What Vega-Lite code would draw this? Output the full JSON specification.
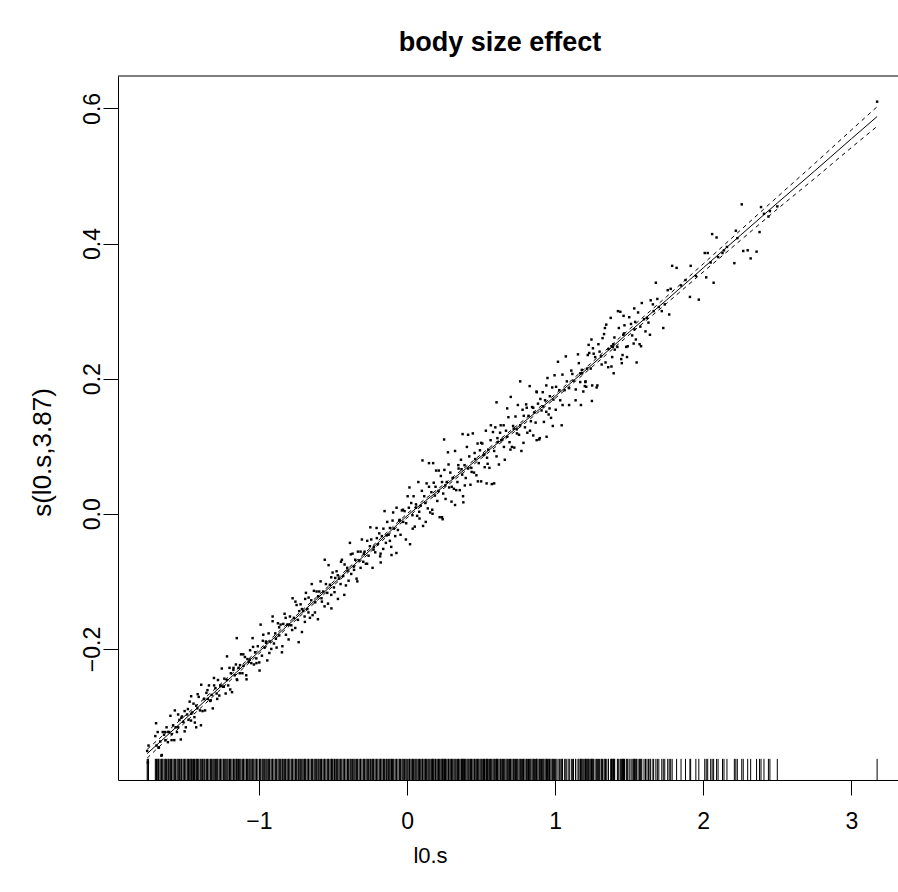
{
  "$schema": "https://vega.github.io/schema/vega-lite/v6.json",
  "width": 780,
  "height": 704,
  "autosize": {"type": "none"},
  "padding": {"left": 118, "top": 76, "right": 0, "bottom": 112},
  "background": "white",
  "config": {
    "view": {"stroke": null},
    "font": "Liberation Sans",
    "axis": {"labelFont": "Liberation Sans", "titleFont": "Liberation Sans", "labelColor": "black", "titleColor": "black", "domainColor": "black", "tickColor": "black", "grid": false}
  },
  "title": {"text": "body size effect", "fontSize": 27, "fontWeight": "bold", "font": "Liberation Sans", "color": "black", "anchor": "middle", "baseline": "alphabetic", "offset": -2, "dx": -8},
  "datasets": {
    "pts": [
      {"x":-1.755,"y":-0.351},{"x":-1.750,"y":-0.368},{"x":-1.746,"y":-0.343},{"x":-1.692,"y":-0.343},{"x":-1.684,"y":-0.323},{"x":-1.676,"y":-0.346},{"x":-1.667,"y":-0.337},{"x":-1.659,"y":-0.358},{"x":-1.650,"y":-0.323},{"x":-1.641,"y":-0.327},
      {"x":-1.632,"y":-0.335},{"x":-1.624,"y":-0.316},{"x":-1.615,"y":-0.338},{"x":-1.606,"y":-0.323},{"x":-1.598,"y":-0.299},{"x":-1.589,"y":-0.326},{"x":-1.580,"y":-0.313},{"x":-1.572,"y":-0.335},{"x":-1.563,"y":-0.316},{"x":-1.554,"y":-0.323},
      {"x":-1.546,"y":-0.297},{"x":-1.537,"y":-0.305},{"x":-1.528,"y":-0.334},{"x":-1.520,"y":-0.300},{"x":-1.511,"y":-0.308},{"x":-1.502,"y":-0.292},{"x":-1.494,"y":-0.316},{"x":-1.485,"y":-0.297},{"x":-1.476,"y":-0.305},{"x":-1.468,"y":-0.278},
      {"x":-1.459,"y":-0.306},{"x":-1.450,"y":-0.294},{"x":-1.442,"y":-0.281},{"x":-1.433,"y":-0.309},{"x":-1.424,"y":-0.284},{"x":-1.416,"y":-0.288},{"x":-1.407,"y":-0.271},{"x":-1.398,"y":-0.291},{"x":-1.390,"y":-0.253},{"x":-1.381,"y":-0.292},
      {"x":-1.372,"y":-0.274},{"x":-1.364,"y":-0.291},{"x":-1.355,"y":-0.265},{"x":-1.346,"y":-0.274},{"x":-1.338,"y":-0.254},{"x":-1.329,"y":-0.277},{"x":-1.320,"y":-0.268},{"x":-1.312,"y":-0.288},{"x":-1.303,"y":-0.254},{"x":-1.294,"y":-0.258},
      {"x":-1.286,"y":-0.266},{"x":-1.277,"y":-0.246},{"x":-1.268,"y":-0.269},{"x":-1.260,"y":-0.254},{"x":-1.251,"y":-0.229},{"x":-1.242,"y":-0.256},{"x":-1.234,"y":-0.244},{"x":-1.225,"y":-0.266},{"x":-1.216,"y":-0.246},{"x":-1.208,"y":-0.254},
      {"x":-1.199,"y":-0.228},{"x":-1.190,"y":-0.236},{"x":-1.182,"y":-0.264},{"x":-1.173,"y":-0.231},{"x":-1.164,"y":-0.239},{"x":-1.156,"y":-0.223},{"x":-1.147,"y":-0.246},{"x":-1.138,"y":-0.228},{"x":-1.130,"y":-0.236},{"x":-1.121,"y":-0.208},
      {"x":-1.112,"y":-0.236},{"x":-1.104,"y":-0.225},{"x":-1.095,"y":-0.212},{"x":-1.086,"y":-0.239},{"x":-1.078,"y":-0.215},{"x":-1.069,"y":-0.219},{"x":-1.060,"y":-0.202},{"x":-1.052,"y":-0.221},{"x":-1.043,"y":-0.184},{"x":-1.034,"y":-0.223},
      {"x":-1.026,"y":-0.205},{"x":-1.017,"y":-0.221},{"x":-1.008,"y":-0.196},
      {"x":-0.998,"y":-0.220},{"x":-0.989,"y":-0.164},{"x":-0.980,"y":-0.210},{"x":-0.971,"y":-0.179},{"x":-0.962,"y":-0.198},{"x":-0.953,"y":-0.189},{"x":-0.944,"y":-0.217},{"x":-0.935,"y":-0.177},{"x":-0.926,"y":-0.189},{"x":-0.917,"y":-0.200},
      {"x":-0.908,"y":-0.159},{"x":-0.899,"y":-0.192},{"x":-0.890,"y":-0.177},{"x":-0.881,"y":-0.198},{"x":-0.872,"y":-0.162},{"x":-0.863,"y":-0.180},{"x":-0.854,"y":-0.164},{"x":-0.845,"y":-0.205},{"x":-0.836,"y":-0.163},{"x":-0.827,"y":-0.148},
      {"x":-0.818,"y":-0.179},{"x":-0.809,"y":-0.164},{"x":-0.800,"y":-0.186},{"x":-0.791,"y":-0.152},{"x":-0.782,"y":-0.165},{"x":-0.773,"y":-0.125},{"x":-0.764,"y":-0.154},{"x":-0.755,"y":-0.169},{"x":-0.746,"y":-0.135},{"x":-0.737,"y":-0.157},
      {"x":-0.728,"y":-0.144},{"x":-0.719,"y":-0.134},{"x":-0.710,"y":-0.175},{"x":-0.701,"y":-0.144},{"x":-0.692,"y":-0.152},{"x":-0.683,"y":-0.117},{"x":-0.674,"y":-0.141},{"x":-0.665,"y":-0.124},{"x":-0.656,"y":-0.154},{"x":-0.647,"y":-0.128},
      {"x":-0.638,"y":-0.150},{"x":-0.629,"y":-0.114},{"x":-0.620,"y":-0.131},{"x":-0.611,"y":-0.115},{"x":-0.602,"y":-0.156},{"x":-0.593,"y":-0.115},{"x":-0.584,"y":-0.100},{"x":-0.575,"y":-0.130},{"x":-0.566,"y":-0.115},{"x":-0.557,"y":-0.137},
      {"x":-0.548,"y":-0.104},{"x":-0.539,"y":-0.117},{"x":-0.530,"y":-0.076},{"x":-0.521,"y":-0.105},{"x":-0.512,"y":-0.120},{"x":-0.503,"y":-0.087},{"x":-0.494,"y":-0.109},{"x":-0.485,"y":-0.095},{"x":-0.476,"y":-0.085},{"x":-0.467,"y":-0.126},
      {"x":-0.458,"y":-0.096},{"x":-0.449,"y":-0.104},{"x":-0.440,"y":-0.068},{"x":-0.431,"y":-0.092},{"x":-0.422,"y":-0.075},{"x":-0.413,"y":-0.106},{"x":-0.404,"y":-0.080},{"x":-0.395,"y":-0.099},{"x":-0.386,"y":-0.043},{"x":-0.377,"y":-0.089},
      {"x":-0.368,"y":-0.059},{"x":-0.359,"y":-0.078},{"x":-0.350,"y":-0.068},{"x":-0.341,"y":-0.096},{"x":-0.332,"y":-0.056},{"x":-0.323,"y":-0.069},{"x":-0.314,"y":-0.080},{"x":-0.305,"y":-0.038},{"x":-0.296,"y":-0.071},{"x":-0.287,"y":-0.056},
      {"x":-0.278,"y":-0.074},{"x":-0.269,"y":-0.040},{"x":-0.260,"y":-0.062},{"x":-0.251,"y":-0.048},{"x":-0.242,"y":-0.038},{"x":-0.233,"y":-0.080},{"x":-0.224,"y":-0.049},{"x":-0.215,"y":-0.057},{"x":-0.206,"y":-0.021},{"x":-0.197,"y":-0.045},
      {"x":-0.188,"y":-0.029},{"x":-0.179,"y":-0.059},{"x":-0.170,"y":-0.033},{"x":-0.161,"y":-0.052},{"x":-0.152,"y":0.004},{"x":-0.143,"y":-0.043},{"x":-0.134,"y":-0.012},{"x":-0.125,"y":-0.031},{"x":-0.116,"y":-0.021},{"x":-0.107,"y":-0.049},
      {"x":-0.098,"y":-0.010},{"x":-0.089,"y":-0.022},{"x":-0.080,"y":-0.033},{"x":-0.071,"y":0.009},{"x":-0.062,"y":-0.024},{"x":-0.053,"y":-0.010},{"x":-0.044,"y":-0.031},{"x":-0.035,"y":0.005},{"x":-0.026,"y":-0.012},{"x":-0.017,"y":0.004},
      {"x":-0.008,"y":-0.038},
      {"x":0.004,"y":0.026},{"x":0.012,"y":0.009},{"x":0.020,"y":-0.045},{"x":0.028,"y":0.016},{"x":0.036,"y":-0.002},{"x":0.044,"y":0.026},{"x":0.052,"y":-0.019},{"x":0.060,"y":0.014},{"x":0.068,"y":-0.003},{"x":0.076,"y":0.047},
      {"x":0.084,"y":-0.007},{"x":0.092,"y":0.012},{"x":0.100,"y":0.034},{"x":0.108,"y":-0.018},{"x":0.116,"y":0.026},{"x":0.124,"y":0.016},{"x":0.132,"y":0.045},{"x":0.140,"y":0.008},{"x":0.148,"y":0.075},{"x":0.156,"y":0.002},
      {"x":0.164,"y":0.032},{"x":0.172,"y":0.000},{"x":0.180,"y":0.046},{"x":0.188,"y":0.027},{"x":0.196,"y":0.064},{"x":0.204,"y":0.019},{"x":0.212,"y":0.034},{"x":0.220,"y":-0.005},{"x":0.228,"y":0.056},{"x":0.236,"y":0.047},
      {"x":0.244,"y":0.030},{"x":0.252,"y":0.065},{"x":0.260,"y":0.022},{"x":0.268,"y":0.047},{"x":0.276,"y":0.091},{"x":0.284,"y":0.039},{"x":0.292,"y":0.061},{"x":0.300,"y":0.018},{"x":0.308,"y":0.053},{"x":0.316,"y":0.037},
      {"x":0.324,"y":0.093},{"x":0.332,"y":0.035},{"x":0.340,"y":0.047},{"x":0.348,"y":0.067},{"x":0.356,"y":0.035},{"x":0.364,"y":0.080},{"x":0.372,"y":0.058},{"x":0.380,"y":0.017},{"x":0.388,"y":0.072},{"x":0.396,"y":0.053},
      {"x":0.404,"y":0.099},{"x":0.412,"y":0.067},{"x":0.420,"y":0.085},{"x":0.428,"y":0.043},{"x":0.436,"y":0.062},{"x":0.444,"y":0.119},{"x":0.452,"y":0.061},{"x":0.460,"y":0.081},{"x":0.468,"y":0.057},{"x":0.476,"y":0.104},
      {"x":0.484,"y":0.075},{"x":0.492,"y":0.094},{"x":0.500,"y":0.048},{"x":0.508,"y":0.104},{"x":0.516,"y":0.087},{"x":0.524,"y":0.069},{"x":0.532,"y":0.123},{"x":0.540,"y":0.083},{"x":0.548,"y":0.095},{"x":0.556,"y":0.068},
      {"x":0.564,"y":0.109},{"x":0.572,"y":0.044},{"x":0.580,"y":0.121},{"x":0.588,"y":0.093},{"x":0.596,"y":0.128},{"x":0.604,"y":0.085},{"x":0.612,"y":0.106},{"x":0.620,"y":0.073},{"x":0.628,"y":0.120},{"x":0.636,"y":0.109},
      {"x":0.644,"y":0.110},{"x":0.652,"y":0.131},{"x":0.660,"y":0.080},{"x":0.668,"y":0.123},{"x":0.676,"y":0.114},{"x":0.684,"y":0.143},{"x":0.692,"y":0.106},{"x":0.700,"y":0.173},{"x":0.708,"y":0.099},{"x":0.716,"y":0.130},
      {"x":0.724,"y":0.098},{"x":0.732,"y":0.144},{"x":0.740,"y":0.125},{"x":0.748,"y":0.161},{"x":0.756,"y":0.117},{"x":0.764,"y":0.131},{"x":0.772,"y":0.093},{"x":0.780,"y":0.154},{"x":0.788,"y":0.145},{"x":0.796,"y":0.128},
      {"x":0.804,"y":0.162},{"x":0.812,"y":0.120},{"x":0.820,"y":0.145},{"x":0.828,"y":0.189},{"x":0.836,"y":0.137},{"x":0.844,"y":0.158},{"x":0.852,"y":0.116},{"x":0.860,"y":0.150},{"x":0.868,"y":0.135},{"x":0.876,"y":0.180},
      {"x":0.884,"y":0.163},{"x":0.892,"y":0.110},{"x":0.900,"y":0.170},{"x":0.908,"y":0.153},{"x":0.916,"y":0.180},{"x":0.924,"y":0.136},{"x":0.932,"y":0.168},{"x":0.940,"y":0.151},{"x":0.948,"y":0.201},{"x":0.956,"y":0.147},
      {"x":0.964,"y":0.174},{"x":0.972,"y":0.142},{"x":0.980,"y":0.187},{"x":0.988,"y":0.169},{"x":0.996,"y":0.205},
      {"x":1.004,"y":0.154},{"x":1.019,"y":0.225},{"x":1.034,"y":0.168},{"x":1.049,"y":0.206},{"x":1.064,"y":0.183},{"x":1.079,"y":0.196},{"x":1.094,"y":0.161},{"x":1.109,"y":0.212},{"x":1.124,"y":0.197},{"x":1.139,"y":0.184},
      {"x":1.154,"y":0.236},{"x":1.169,"y":0.195},
      {"x":1.18,"y":0.213},{"x":1.20,"y":0.189},{"x":1.22,"y":0.235},{"x":1.24,"y":0.215},{"x":1.26,"y":0.237},{"x":1.28,"y":0.187},{"x":1.30,"y":0.240},{"x":1.32,"y":0.260},{"x":1.34,"y":0.224},{"x":1.36,"y":0.244},
      {"x":1.38,"y":0.218},{"x":1.40,"y":0.261},{"x":1.42,"y":0.247},{"x":1.44,"y":0.299},{"x":1.46,"y":0.265},{"x":1.48,"y":0.247},{"x":1.50,"y":0.291},{"x":1.52,"y":0.264},{"x":1.54,"y":0.284},{"x":1.56,"y":0.298},
      {"x":1.58,"y":0.248},{"x":1.60,"y":0.288},
      {"x":1.17,"y":0.208},{"x":1.205,"y":0.196},{"x":1.21,"y":0.188},{"x":1.25,"y":0.190},{"x":1.285,"y":0.190},{"x":1.19,"y":0.181},{"x":1.215,"y":0.215},{"x":1.23,"y":0.238},{"x":1.31,"y":0.233},{"x":1.385,"y":0.232},
      {"x":1.39,"y":0.247},{"x":1.45,"y":0.223},{"x":1.55,"y":0.224},{"x":1.485,"y":0.232},{"x":1.455,"y":0.235},{"x":1.395,"y":0.208},{"x":1.255,"y":0.245},{"x":1.245,"y":0.258},{"x":1.33,"y":0.266},{"x":1.393,"y":0.251},
      {"x":1.53,"y":0.252},{"x":1.57,"y":0.251},{"x":1.545,"y":0.258},{"x":1.575,"y":0.277},{"x":1.535,"y":0.273},{"x":1.465,"y":0.267},{"x":1.64,"y":0.265},{"x":1.43,"y":0.275},{"x":1.345,"y":0.280},{"x":1.375,"y":0.290},
      {"x":1.462,"y":0.293},{"x":1.585,"y":0.312},{"x":1.66,"y":0.310},{"x":1.645,"y":0.316},{"x":1.77,"y":0.295},{"x":1.73,"y":0.275},{"x":1.78,"y":0.333},{"x":1.76,"y":0.331},{"x":1.68,"y":0.342},{"x":1.91,"y":0.321},
      {"x":1.97,"y":0.317},{"x":2.07,"y":0.342},{"x":2.02,"y":0.350},{"x":1.915,"y":0.367},{"x":1.82,"y":0.364},{"x":1.79,"y":0.367},{"x":2.32,"y":0.378},{"x":2.36,"y":0.388},{"x":2.30,"y":0.390},{"x":2.27,"y":0.389},
      {"x":2.21,"y":0.371},{"x":2.01,"y":0.386},{"x":2.09,"y":0.409},{"x":2.06,"y":0.414},{"x":2.22,"y":0.419},{"x":2.38,"y":0.417},{"x":2.26,"y":0.458},{"x":2.39,"y":0.454},{"x":2.03,"y":0.386},{"x":2.13,"y":0.386},
      {"x":2.16,"y":0.395},{"x":2.44,"y":0.440},{"x":3.174,"y":0.610},
      {"x":1.62,"y":0.290},{"x":1.70,"y":0.306},{"x":1.72,"y":0.300},{"x":1.85,"y":0.338},{"x":1.88,"y":0.346},{"x":1.95,"y":0.352},{"x":2.05,"y":0.372},{"x":2.10,"y":0.380},{"x":2.14,"y":0.390},{"x":2.23,"y":0.408},
      {"x":2.41,"y":0.444},{"x":2.45,"y":0.448},{"x":2.50,"y":0.455},{"x":1.665,"y":0.300},{"x":1.69,"y":0.318},{"x":1.74,"y":0.310},{"x":1.61,"y":0.270},{"x":1.63,"y":0.283},
      {"x":-1.15,"y":-0.184},{"x":-1.458,"y":-0.270},{"x":-1.424,"y":-0.316},{"x":-0.511,"y":-0.140},{"x":-1.695,"y":-0.310},{"x":-0.69,"y":-0.160},
      {"x":0.604,"y":0.165},{"x":1.174,"y":0.161},{"x":0.25,"y":0.110},{"x":0.375,"y":0.118},{"x":0.537,"y":0.045},{"x":0.24,"y":-0.008},{"x":-0.178,"y":-0.072},{"x":-0.105,"y":-0.061},{"x":0.378,"y":0.026},{"x":0.176,"y":0.075},
      {"x":0.942,"y":0.114},{"x":1.044,"y":0.131},{"x":0.875,"y":0.109},
      {"x":-1.700,"y":-0.329},{"x":-1.678,"y":-0.346},{"x":-1.656,"y":-0.357},{"x":-1.634,"y":-0.323},{"x":-1.612,"y":-0.323},{"x":-1.590,"y":-0.335},{"x":-1.568,"y":-0.291},{"x":-1.546,"y":-0.316},{"x":-1.524,"y":-0.302},{"x":-1.502,"y":-0.322},
      {"x":-1.480,"y":-0.289},{"x":-1.458,"y":-0.296},{"x":-1.436,"y":-0.301},{"x":-1.414,"y":-0.267},{"x":-1.392,"y":-0.313},{"x":-1.370,"y":-0.274},{"x":-1.348,"y":-0.261},{"x":-1.326,"y":-0.276},{"x":-1.304,"y":-0.243},{"x":-1.282,"y":-0.274},
      {"x":-1.260,"y":-0.255},{"x":-1.238,"y":-0.256},{"x":-1.216,"y":-0.211},{"x":-1.194,"y":-0.260},{"x":-1.172,"y":-0.228},{"x":-1.150,"y":-0.245},{"x":-1.128,"y":-0.224},{"x":-1.106,"y":-0.208},{"x":-1.084,"y":-0.245},{"x":-1.062,"y":-0.216},
      {"x":-1.040,"y":-0.197},{"x":-1.018,"y":-0.214},{"x":-0.996,"y":-0.232},{"x":-0.974,"y":-0.188},{"x":-0.952,"y":-0.191},{"x":-0.930,"y":-0.206},{"x":-0.908,"y":-0.152},{"x":-0.886,"y":-0.185},{"x":-0.864,"y":-0.168},{"x":-0.842,"y":-0.196},
      {"x":-0.820,"y":-0.154},{"x":-0.798,"y":-0.164},{"x":-0.776,"y":-0.172},{"x":-0.754,"y":-0.130},{"x":-0.732,"y":-0.190},{"x":-0.710,"y":-0.141},{"x":-0.688,"y":-0.126},{"x":-0.666,"y":-0.146},{"x":-0.644,"y":-0.104},{"x":-0.622,"y":-0.146},
      {"x":-0.600,"y":-0.122},{"x":-0.578,"y":-0.125},{"x":-0.556,"y":-0.068},{"x":-0.534,"y":-0.133},{"x":-0.512,"y":-0.094},{"x":-0.490,"y":-0.116},{"x":-0.468,"y":-0.091},{"x":-0.446,"y":-0.071},{"x":-0.424,"y":-0.120},{"x":-0.402,"y":-0.084},
      {"x":-0.380,"y":-0.060},{"x":-0.358,"y":-0.083},{"x":-0.336,"y":-0.100},{"x":-0.314,"y":-0.056},{"x":-0.292,"y":-0.059},{"x":-0.270,"y":-0.074},{"x":-0.248,"y":-0.020},{"x":-0.226,"y":-0.053},{"x":-0.204,"y":-0.036},{"x":-0.182,"y":-0.063},
      {"x":-0.160,"y":-0.022},{"x":-0.138,"y":-0.032},{"x":-0.116,"y":-0.040},{"x":-0.094,"y":0.002},{"x":-0.072,"y":-0.058},{"x":-0.050,"y":-0.009},{"x":-0.028,"y":0.006},{"x":-0.006,"y":-0.014},
      {"x":0.016,"y":0.039},{"x":0.038,"y":-0.022},{"x":0.060,"y":0.009},{"x":0.082,"y":0.003},{"x":0.104,"y":0.079},{"x":0.126,"y":-0.012},{"x":0.148,"y":0.040},{"x":0.170,"y":0.006},{"x":0.192,"y":0.040},{"x":0.214,"y":0.064},
      {"x":0.236,"y":-0.005},{"x":0.258,"y":0.042},{"x":0.280,"y":0.073},{"x":0.302,"y":0.040},{"x":0.324,"y":0.013},{"x":0.346,"y":0.072},{"x":0.368,"y":0.066},{"x":0.390,"y":0.042},{"x":0.412,"y":0.117},{"x":0.434,"y":0.068},
      {"x":0.456,"y":0.090},{"x":0.478,"y":0.048},{"x":0.500,"y":0.105},{"x":0.522,"y":0.088},{"x":0.544,"y":0.074},{"x":0.566,"y":0.131},{"x":0.588,"y":0.045},{"x":0.610,"y":0.112},{"x":0.632,"y":0.131},{"x":0.654,"y":0.099},
      {"x":0.676,"y":0.156},{"x":0.698,"y":0.095},{"x":0.720,"y":0.126},{"x":0.742,"y":0.119},{"x":0.764,"y":0.196},{"x":0.786,"y":0.105},{"x":0.808,"y":0.157},{"x":0.830,"y":0.123},{"x":0.852,"y":0.157},{"x":0.874,"y":0.181},
      {"x":0.896,"y":0.112},{"x":0.918,"y":0.159},{"x":0.940,"y":0.190},{"x":0.962,"y":0.156},{"x":0.984,"y":0.130},
      {"x":1.006,"y":0.188},{"x":1.028,"y":0.183},{"x":1.050,"y":0.161},{"x":1.072,"y":0.233},{"x":1.094,"y":0.186},{"x":1.116,"y":0.207},{"x":1.138,"y":0.168},{"x":1.160,"y":0.223},{"x":1.182,"y":0.208},{"x":1.204,"y":0.195},
      {"x":1.226,"y":0.250},{"x":1.248,"y":0.167},{"x":1.270,"y":0.232},{"x":1.292,"y":0.251},{"x":1.314,"y":0.221},{"x":1.336,"y":0.275},{"x":1.358,"y":0.217},{"x":1.380,"y":0.248},{"x":1.402,"y":0.243},{"x":1.424,"y":0.300},
      {"x":1.446,"y":0.229},{"x":1.468,"y":0.279},{"x":1.490,"y":0.248},{"x":1.512,"y":0.281},{"x":1.534,"y":0.304}
    ],
    "fit": [
      {"x":-1.755,"fit":-0.355,"lo":-0.3615,"hi":-0.3485},
      {"x":-1.5,"fit":-0.304,"lo":-0.309,"hi":-0.299},
      {"x":-1.25,"fit":-0.254,"lo":-0.258,"hi":-0.250},
      {"x":-1.0,"fit":-0.204,"lo":-0.207,"hi":-0.201},
      {"x":-0.75,"fit":-0.154,"lo":-0.157,"hi":-0.151},
      {"x":-0.5,"fit":-0.104,"lo":-0.107,"hi":-0.101},
      {"x":-0.25,"fit":-0.054,"lo":-0.057,"hi":-0.051},
      {"x":0.0,"fit":-0.003,"lo":-0.006,"hi":0.000},
      {"x":0.25,"fit":0.041,"lo":0.038,"hi":0.044},
      {"x":0.5,"fit":0.085,"lo":0.082,"hi":0.088},
      {"x":0.75,"fit":0.129,"lo":0.126,"hi":0.132},
      {"x":1.0,"fit":0.174,"lo":0.171,"hi":0.177},
      {"x":1.25,"fit":0.221,"lo":0.2175,"hi":0.2245},
      {"x":1.5,"fit":0.269,"lo":0.265,"hi":0.273},
      {"x":1.75,"fit":0.316,"lo":0.311,"hi":0.321},
      {"x":2.0,"fit":0.364,"lo":0.358,"hi":0.370},
      {"x":2.25,"fit":0.412,"lo":0.4045,"hi":0.4195},
      {"x":2.5,"fit":0.460,"lo":0.451,"hi":0.469},
      {"x":2.75,"fit":0.507,"lo":0.496,"hi":0.518},
      {"x":3.0,"fit":0.555,"lo":0.542,"hi":0.568},
      {"x":3.174,"fit":0.588,"lo":0.5735,"hi":0.6025}
    ]
  },
  "layer": [
    {
      "data": {"name": "pts"},
      "mark": {"type": "square", "size": 6, "color": "black", "opacity": 1, "strokeWidth": 0},
      "encoding": {
        "x": {"field": "x", "type": "quantitative", "scale": {"domain": [-1.952, 3.315], "nice": false, "zero": false},
              "axis": {"values": [-1, 0, 1, 2, 3], "format": "d", "title": "l0.s", "titleFontSize": 22, "titleFontWeight": "normal", "titleBaseline": "alphabetic", "titleY": 82, "titleX": 312, "labelFontSize": 23, "labelBaseline": "alphabetic", "labelPadding": 33, "tickSize": 15, "domainWidth": 1, "tickWidth": 1, "labelFlush": false}},
        "y": {"field": "y", "type": "quantitative", "scale": {"domain": [-0.394, 0.648], "nice": false, "zero": false},
              "axis": {"values": [-0.2, 0, 0.2, 0.4, 0.6], "format": ".1f", "title": "s(l0.s,3.87)", "titleFontSize": 26, "titleFontWeight": "normal", "titleBaseline": "alphabetic", "titleX": -68, "titleY": 376, "labelFontSize": 23, "labelAngle": -90, "labelAlign": "center", "labelBaseline": "alphabetic", "labelPadding": 4, "tickSize": 15, "domainWidth": 1, "tickWidth": 1, "labelFlush": false}}
      }
    },
    {
      "data": {"name": "pts"},
      "mark": {"type": "rule", "color": "black", "strokeWidth": 1},
      "encoding": {
        "x": {"field": "x", "type": "quantitative"},
        "y": {"datum": -0.394},
        "y2": {"datum": -0.3627}
      }
    },
    {
      "data": {"name": "fit"},
      "mark": {"type": "line", "color": "black", "strokeWidth": 1, "interpolate": "monotone"},
      "encoding": {
        "x": {"field": "x", "type": "quantitative"},
        "y": {"field": "fit", "type": "quantitative"}
      }
    },
    {
      "data": {"name": "fit"},
      "mark": {"type": "line", "color": "black", "strokeWidth": 1, "strokeDash": [4, 4], "interpolate": "monotone"},
      "encoding": {
        "x": {"field": "x", "type": "quantitative"},
        "y": {"field": "lo", "type": "quantitative"}
      }
    },
    {
      "data": {"name": "fit"},
      "mark": {"type": "line", "color": "black", "strokeWidth": 1, "strokeDash": [4, 4], "interpolate": "monotone"},
      "encoding": {
        "x": {"field": "x", "type": "quantitative"},
        "y": {"field": "hi", "type": "quantitative"}
      }
    },
    {
      "data": {"values": [{}]},
      "mark": {"type": "rule", "color": "black", "strokeWidth": 1},
      "encoding": {
        "y": {"datum": 0.648}
      }
    }
  ]
}
